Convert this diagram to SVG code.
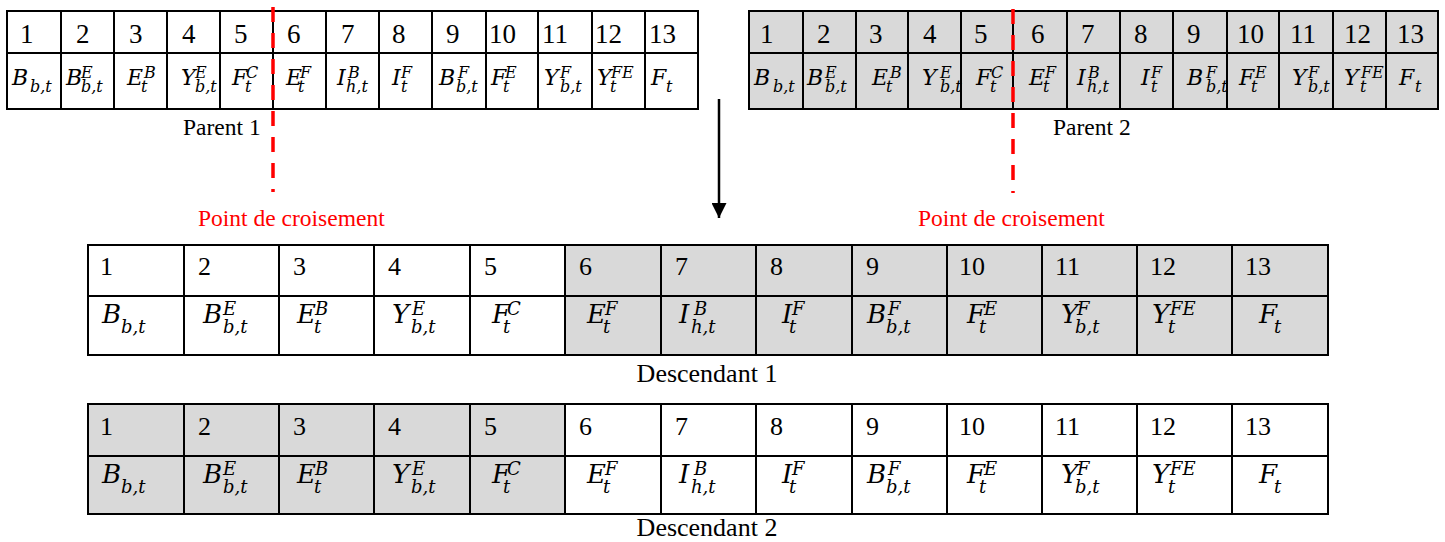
<svg xmlns="http://www.w3.org/2000/svg" width="1445" height="542" viewBox="0 0 1445 542">
<style>
.bgw{fill:#ffffff}
.bgg{fill:#d9d9d9}
.grid{fill:none;stroke:#000;stroke-width:2}
.n{font-family:"Liberation Serif","Times New Roman",serif;font-size:27px;fill:#000}
.nd{font-family:"Liberation Serif","Times New Roman",serif;font-size:26px;fill:#000}
.pm{font-family:"DejaVu Serif",serif;font-style:italic;font-size:22px;fill:#000}
.ps{font-family:"DejaVu Serif",serif;font-style:italic;font-size:16px;fill:#000}
.dm{font-family:"DejaVu Serif",serif;font-style:italic;font-size:26px;fill:#000}
.ds{font-family:"DejaVu Serif",serif;font-style:italic;font-size:18px;fill:#000}
.lbl{font-family:"Liberation Serif","Times New Roman",serif;font-size:23.5px;fill:#000}
.lbd{font-family:"Liberation Serif","Times New Roman",serif;font-size:26px;fill:#000;text-anchor:middle}
.red{font-family:"Liberation Serif","Times New Roman",serif;font-size:23.5px;fill:#ff0000}
.cut{stroke:#ff0000;stroke-width:3.5;stroke-dasharray:15 11;fill:none}
</style>
<defs>
<marker id="ah" viewBox="0 0 10 10" refX="10" refY="5" markerWidth="15" markerHeight="15" markerUnits="userSpaceOnUse" orient="auto">
<path d="M0,0 L10,5 L0,10 Z" fill="#000"/>
</marker>
</defs>

<g id="parent1">
<rect class="bgw" x="7" y="11" width="691" height="98"/>
<path class="grid" d="M7,11 H698 V109 H7 Z M7,53 H698 M61,11 V109 M114,11 V109 M167,11 V109 M220,11 V109 M273,11 V109 M326,11 V109 M379,11 V109 M432,11 V109 M486,11 V109 M538,11 V109 M592,11 V109 M645,11 V109"/>
<g>
<text class="n" x="20" y="43">1</text><text class="n" x="76" y="43">2</text><text class="n" x="129" y="43">3</text><text class="n" x="182" y="43">4</text><text class="n" x="234" y="43">5</text><text class="n" x="287" y="43">6</text><text class="n" x="341" y="43">7</text><text class="n" x="392" y="43">8</text><text class="n" x="446" y="43">9</text><text class="n" x="489" y="43">10</text><text class="n" x="542" y="43">11</text><text class="n" x="595" y="43">12</text><text class="n" x="649" y="43">13</text>
</g>
<g>
<text class="pm" x="12" y="85">B</text><text class="ps" x="30" y="92">b,t</text>
<text class="pm" x="66" y="85">B</text><text class="ps" x="81" y="78">E</text><text class="ps" x="81" y="92">b,t</text>
<text class="pm" x="127" y="85">E</text><text class="ps" x="144" y="78">B</text><text class="ps" x="141" y="92">t</text>
<text class="pm" x="181" y="85">Y</text><text class="ps" x="195" y="78">E</text><text class="ps" x="195" y="92">b,t</text>
<text class="pm" x="232" y="85">F</text><text class="ps" x="246" y="78">C</text><text class="ps" x="245" y="92">t</text>
<text class="pm" x="286" y="85">E</text><text class="ps" x="300" y="78">F</text><text class="ps" x="298" y="92">t</text>
<text class="pm" x="337" y="85">I</text><text class="ps" x="348" y="78">B</text><text class="ps" x="346" y="92">h,t</text>
<text class="pm" x="392" y="85">I</text><text class="ps" x="401" y="78">F</text><text class="ps" x="401" y="92">t</text>
<text class="pm" x="439" y="85">B</text><text class="ps" x="458" y="78">F</text><text class="ps" x="456" y="92">b,t</text>
<text class="pm" x="491" y="85">F</text><text class="ps" x="505" y="78">E</text><text class="ps" x="503" y="92">t</text>
<text class="pm" x="544" y="85">Y</text><text class="ps" x="560" y="78">F</text><text class="ps" x="560" y="92">b,t</text>
<text class="pm" x="597" y="85">Y</text><text class="ps" x="611" y="78">FE</text><text class="ps" x="610" y="92">t</text>
<text class="pm" x="651" y="85">F</text><text class="ps" x="666" y="92">t</text>
</g>
</g>

<g id="parent2">
<rect class="bgg" x="749" y="11" width="689" height="98"/>
<path class="grid" d="M749,11 H1438 V109 H749 Z M749,53 H1438 M803,11 V109 M856,11 V109 M908,11 V109 M961,11 V109 M1013,11 V109 M1067,11 V109 M1120,11 V109 M1173,11 V109 M1227,11 V109 M1279,11 V109 M1333,11 V109 M1386,11 V109"/>
<g>
<text class="n" x="760" y="43">1</text><text class="n" x="817" y="43">2</text><text class="n" x="869" y="43">3</text><text class="n" x="923" y="43">4</text><text class="n" x="974" y="43">5</text><text class="n" x="1031" y="43">6</text><text class="n" x="1081" y="43">7</text><text class="n" x="1134" y="43">8</text><text class="n" x="1187" y="43">9</text><text class="n" x="1237" y="43">10</text><text class="n" x="1290" y="43">11</text><text class="n" x="1344" y="43">12</text><text class="n" x="1397" y="43">13</text>
</g>
<g>
<text class="pm" x="754" y="85">B</text><text class="ps" x="773" y="92">b,t</text>
<text class="pm" x="807" y="85">B</text><text class="ps" x="825" y="78">E</text><text class="ps" x="825" y="92">b,t</text>
<text class="pm" x="872" y="85">E</text><text class="ps" x="890" y="78">B</text><text class="ps" x="886" y="92">t</text>
<text class="pm" x="922" y="85">Y</text><text class="ps" x="940" y="78">E</text><text class="ps" x="940" y="92">b,t</text>
<text class="pm" x="976" y="85">F</text><text class="ps" x="991" y="78">C</text><text class="ps" x="990" y="92">t</text>
<text class="pm" x="1029" y="85">E</text><text class="ps" x="1045" y="78">F</text><text class="ps" x="1043" y="92">t</text>
<text class="pm" x="1077" y="85">I</text><text class="ps" x="1088" y="78">B</text><text class="ps" x="1087" y="92">h,t</text>
<text class="pm" x="1141" y="85">I</text><text class="ps" x="1151" y="78">F</text><text class="ps" x="1151" y="92">t</text>
<text class="pm" x="1187" y="85">B</text><text class="ps" x="1206" y="78">F</text><text class="ps" x="1206" y="92">b,t</text>
<text class="pm" x="1239" y="85">F</text><text class="ps" x="1255" y="78">E</text><text class="ps" x="1251" y="92">t</text>
<text class="pm" x="1292" y="85">Y</text><text class="ps" x="1308" y="78">F</text><text class="ps" x="1308" y="92">b,t</text>
<text class="pm" x="1344" y="85">Y</text><text class="ps" x="1361" y="78">FE</text><text class="ps" x="1360" y="92">t</text>
<text class="pm" x="1399" y="85">F</text><text class="ps" x="1415" y="92">t</text>
</g>
</g>

<g id="descendant1">
<rect class="bgw" x="88" y="245" width="477" height="110"/>
<rect class="bgg" x="565" y="245" width="763" height="110"/>
<path class="grid" d="M88,245 H1328 V355 H88 Z M88,296 H1328 M184,245 V355 M279,245 V355 M374,245 V355 M470,245 V355 M565,245 V355 M661,245 V355 M756,245 V355 M852,245 V355 M947,245 V355 M1042,245 V355 M1137,245 V355 M1232,245 V355"/>
<g>
<text class="nd" x="100" y="275">1</text><text class="nd" x="198" y="275">2</text><text class="nd" x="293" y="275">3</text><text class="nd" x="388" y="275">4</text><text class="nd" x="484" y="275">5</text><text class="nd" x="579" y="275">6</text><text class="nd" x="675" y="275">7</text><text class="nd" x="770" y="275">8</text><text class="nd" x="866" y="275">9</text><text class="nd" x="959" y="275">10</text><text class="nd" x="1055" y="275">11</text><text class="nd" x="1150" y="275">12</text><text class="nd" x="1245" y="275">13</text>
</g>
<g>
<text class="dm" x="102" y="323">B</text><text class="ds" x="121" y="333">b,t</text>
<text class="dm" x="203" y="323">B</text><text class="ds" x="223" y="315">E</text><text class="ds" x="223" y="333">b,t</text>
<text class="dm" x="297" y="323">E</text><text class="ds" x="315" y="315">B</text><text class="ds" x="314" y="333">t</text>
<text class="dm" x="392" y="323">Y</text><text class="ds" x="412" y="315">E</text><text class="ds" x="411" y="333">b,t</text>
<text class="dm" x="492" y="323">F</text><text class="ds" x="507" y="315">C</text><text class="ds" x="503" y="333">t</text>
<text class="dm" x="587" y="323">E</text><text class="ds" x="605" y="315">F</text><text class="ds" x="603" y="333">t</text>
<text class="dm" x="679" y="323">I</text><text class="ds" x="694" y="315">B</text><text class="ds" x="691" y="333">h,t</text>
<text class="dm" x="782" y="323">I</text><text class="ds" x="792" y="315">F</text><text class="ds" x="789" y="333">t</text>
<text class="dm" x="867" y="323">B</text><text class="ds" x="888" y="315">F</text><text class="ds" x="886" y="333">b,t</text>
<text class="dm" x="967" y="323">F</text><text class="ds" x="984" y="315">E</text><text class="ds" x="979" y="333">t</text>
<text class="dm" x="1061" y="323">Y</text><text class="ds" x="1077" y="315">F</text><text class="ds" x="1075" y="333">b,t</text>
<text class="dm" x="1152" y="323">Y</text><text class="ds" x="1170" y="315">FE</text><text class="ds" x="1168" y="333">t</text>
<text class="dm" x="1259" y="323">F</text><text class="ds" x="1274" y="333">t</text>
</g>
</g>

<g id="descendant2">
<rect class="bgg" x="88" y="404" width="477" height="110"/>
<rect class="bgw" x="565" y="404" width="763" height="110"/>
<path class="grid" d="M88,404 H1328 V514 H88 Z M88,456 H1328 M184,404 V514 M279,404 V514 M374,404 V514 M470,404 V514 M565,404 V514 M661,404 V514 M756,404 V514 M852,404 V514 M947,404 V514 M1042,404 V514 M1137,404 V514 M1232,404 V514"/>
<g>
<text class="nd" x="100" y="435">1</text><text class="nd" x="198" y="435">2</text><text class="nd" x="293" y="435">3</text><text class="nd" x="388" y="435">4</text><text class="nd" x="484" y="435">5</text><text class="nd" x="579" y="435">6</text><text class="nd" x="675" y="435">7</text><text class="nd" x="770" y="435">8</text><text class="nd" x="866" y="435">9</text><text class="nd" x="959" y="435">10</text><text class="nd" x="1055" y="435">11</text><text class="nd" x="1150" y="435">12</text><text class="nd" x="1245" y="435">13</text>
</g>
<g>
<text class="dm" x="102" y="483">B</text><text class="ds" x="121" y="493">b,t</text>
<text class="dm" x="203" y="483">B</text><text class="ds" x="223" y="475">E</text><text class="ds" x="223" y="493">b,t</text>
<text class="dm" x="297" y="483">E</text><text class="ds" x="315" y="475">B</text><text class="ds" x="314" y="493">t</text>
<text class="dm" x="392" y="483">Y</text><text class="ds" x="412" y="475">E</text><text class="ds" x="411" y="493">b,t</text>
<text class="dm" x="492" y="483">F</text><text class="ds" x="507" y="475">C</text><text class="ds" x="503" y="493">t</text>
<text class="dm" x="587" y="483">E</text><text class="ds" x="605" y="475">F</text><text class="ds" x="603" y="493">t</text>
<text class="dm" x="679" y="483">I</text><text class="ds" x="694" y="475">B</text><text class="ds" x="691" y="493">h,t</text>
<text class="dm" x="782" y="483">I</text><text class="ds" x="792" y="475">F</text><text class="ds" x="789" y="493">t</text>
<text class="dm" x="867" y="483">B</text><text class="ds" x="888" y="475">F</text><text class="ds" x="886" y="493">b,t</text>
<text class="dm" x="967" y="483">F</text><text class="ds" x="984" y="475">E</text><text class="ds" x="979" y="493">t</text>
<text class="dm" x="1061" y="483">Y</text><text class="ds" x="1077" y="475">F</text><text class="ds" x="1075" y="493">b,t</text>
<text class="dm" x="1152" y="483">Y</text><text class="ds" x="1170" y="475">FE</text><text class="ds" x="1168" y="493">t</text>
<text class="dm" x="1259" y="483">F</text><text class="ds" x="1274" y="493">t</text>
</g>
</g>

<g id="labels">
<text class="lbl" x="183" y="135">Parent 1</text>
<text class="lbl" x="1053" y="135">Parent 2</text>
<text class="red" x="198" y="226">Point de croisement</text>
<text class="red" x="918" y="226">Point de croisement</text>
<text class="lbd" x="707" y="382">Descendant 1</text>
<text class="lbd" x="707" y="536">Descendant 2</text>
</g>

<g id="connectors">
<line class="cut" x1="273" y1="7" x2="273" y2="192"/>
<line class="cut" x1="1013" y1="9" x2="1013" y2="193"/>
<line x1="719" y1="99" x2="719" y2="218" stroke="#000" stroke-width="2.5" marker-end="url(#ah)"/>
</g>
</svg>
